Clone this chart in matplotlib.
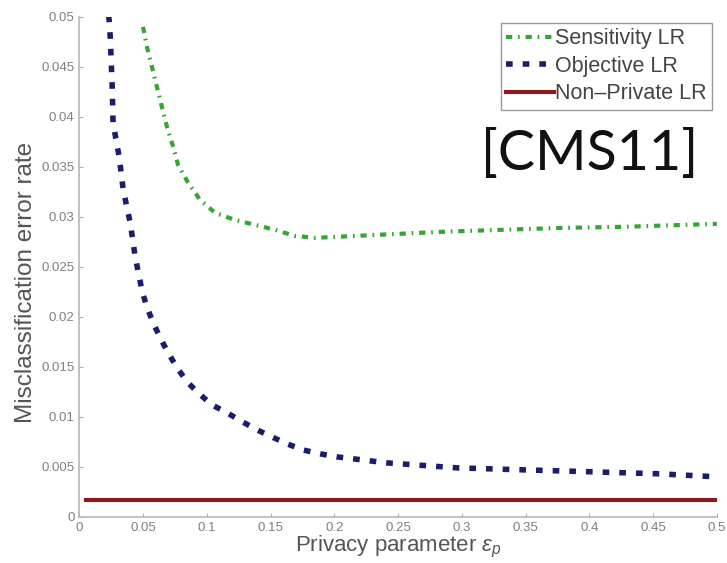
import matplotlib
matplotlib.use("Agg")
import matplotlib.pyplot as plt

plt.rcParams["font.family"] = ["Liberation Sans", "DejaVu Sans"]
plt.rcParams["mathtext.fontset"] = "custom"
plt.rcParams["mathtext.it"] = "Liberation Sans:italic"
plt.rcParams["mathtext.rm"] = "Liberation Sans"

# ---- data ----
obj_eps = [0.0215, 0.0235, 0.0243, 0.0259, 0.0265, 0.0313, 0.0345, 0.040, 0.0439, 0.0494,
           0.0533, 0.058, 0.0635, 0.0697, 0.0768, 0.0846, 0.0933, 0.104, 0.116, 0.128,
           0.1395, 0.151, 0.163, 0.175, 0.189, 0.202, 0.215, 0.241, 0.296, 0.348,
           0.403, 0.455, 0.5]
obj_err = [0.052, 0.0496, 0.048, 0.0429, 0.0394, 0.036, 0.0327, 0.0294, 0.026, 0.0225,
           0.0209, 0.0194, 0.0179, 0.0164, 0.0149, 0.0135, 0.0124, 0.0112, 0.0104, 0.0095,
           0.0087, 0.0080, 0.0073, 0.0067, 0.0063, 0.0060, 0.0058, 0.0054, 0.0049, 0.0047,
           0.0045, 0.0043, 0.0040]

sens_eps = [0.050, 0.0533, 0.0572, 0.0611, 0.065, 0.069, 0.0737, 0.0775, 0.0854, 0.0948,
            0.1066, 0.122, 0.138, 0.1536, 0.169, 0.185, 0.2335, 0.283, 0.33, 0.379,
            0.426, 0.5]
sens_err = [0.049, 0.0469, 0.0449, 0.0429, 0.0409, 0.0389, 0.0370, 0.0352, 0.0334, 0.0317,
            0.0304, 0.0297, 0.0292, 0.0287, 0.0281, 0.0279, 0.0282, 0.0285, 0.0287, 0.0289,
            0.0290, 0.0293]

np_eps = [0.005, 0.5]
np_err = [0.0017, 0.0017]

xticks = [0, 0.05, 0.1, 0.15, 0.2, 0.25, 0.3, 0.35, 0.4, 0.45, 0.5]
xticklabels = ["0", "0.05", "0.1", "0.15", "0.2", "0.25", "0.3", "0.35", "0.4", "0.45", "0.5"]
yticks = [0, 0.005, 0.01, 0.015, 0.02, 0.025, 0.03, 0.035, 0.04, 0.045, 0.05]
yticklabels = ["0", "0.005", "0.01", "0.015", "0.02", "0.025", "0.03", "0.035", "0.04", "0.045", "0.05"]

# ---- plot ----
fig = plt.figure(figsize=(7.27, 5.63), dpi=100)
ax = fig.add_axes([0.109, 0.082, 0.877, 0.888])

ax.plot(sens_eps, sens_err, color="#33a633", lw=3, linestyle=(0, (1.5, 1.4, 0.4, 1.4)),
        label="Sensitivity LR")
ax.plot(obj_eps, obj_err, color="#1c1c6e", lw=4, linestyle=(0, (1.2, 1.8)),
        label="Objective LR")
ax.plot(np_eps, np_err, color="#8b1a1f", lw=3, linestyle="-", label="Non\u2013Private LR")

ax.set_xlim(0, 0.5)
ax.set_ylim(0, 0.05)
ax.set_xticks(xticks)
ax.set_xticklabels(xticklabels)
ax.set_yticks(yticks)
ax.set_yticklabels(yticklabels)
ax.tick_params(labelsize=9.5, labelcolor="#808080", color="#b0b0b0", length=3, direction="in")
ax.tick_params(axis="x", pad=4)

for s in ["top", "right"]:
    ax.spines[s].set_visible(False)
for s in ["left", "bottom"]:
    ax.spines[s].set_color("#b0b8c0")
    ax.spines[s].set_linewidth(1.2)

ax.set_xlabel("Privacy parameter $\\epsilon_p$", fontsize=16, color="#555555", labelpad=0)
ax.set_ylabel("Misclassification error rate", fontsize=17.5, color="#555555")
ax.yaxis.set_label_coords(-0.066, 0.468)

leg = ax.legend(loc="upper right", bbox_to_anchor=(0.992, 0.988), fontsize=15.5,
                handlelength=2.2, handletextpad=0.05, borderpad=0.25, labelspacing=0.3,
                borderaxespad=0.0,
                fancybox=False, framealpha=1, edgecolor="#999999")
for t in leg.get_texts():
    t.set_color("#444444")

ax.text(0.80, 0.724, "[CMS11]", transform=ax.transAxes, fontsize=40,
        family="Lato", color="#111111", ha="center", va="center")

fig.savefig("out.png", dpi=100)
